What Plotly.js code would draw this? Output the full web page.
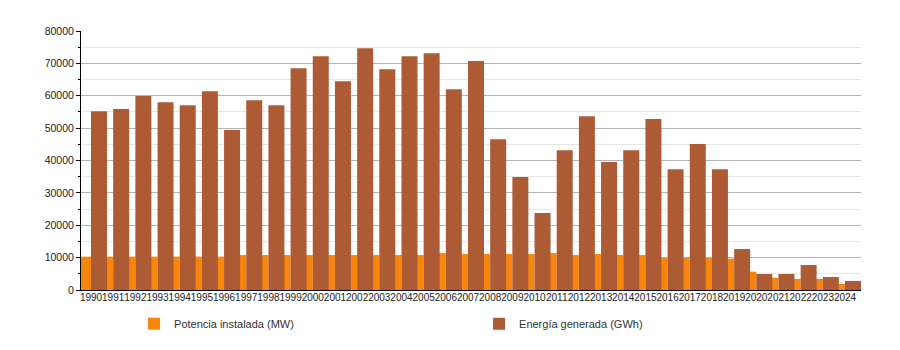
<!DOCTYPE html>
<html>
<head>
<meta charset="utf-8">
<script src="https://cdn.plot.ly/plotly-3.0.1.min.js"></script>
<style>html,body{margin:0;padding:0;background:#fff;}#chart{width:900px;height:350px;}</style>
</head>
<body>
<div id="chart"></div>
<script>
const years = ["1990","1991","1992","1993","1994","1995","1996","1997","1998","1999",
  "2000","2001","2002","2003","2004","2005","2006","2007","2008","2009",
  "2010","2011","2012","2013","2014","2015","2016","2017","2018","2019",
  "2020","2021","2022","2023","2024"];
const potenciaMW = [10300,10300,10300,10300,10300,10300,10300,10800,10800,10800,
  10800,10800,10800,10800,10800,10800,11400,11100,11100,11100,
  11100,11400,10800,11100,10800,10800,9900,9900,9900,9700,
  5650,3800,3400,3400,1850];
const energiaGWh = [55200,55900,59900,58000,57100,61400,49400,58600,57100,68500,
  72200,64500,74700,68200,72200,73100,62000,70700,46600,34900,
  23800,43200,53700,39500,43200,52800,37300,45100,37300,12650,
  4940,4940,7700,4000,2800];
const seriesNames = ["Potencia instalada (MW)", "Energía generada (GWh)"];

const FONT = "Liberation Sans, Arial, sans-serif";
const traces = [
  {type:"bar", name:seriesNames[0], x:years, y:potenciaMW,
   marker:{color:"#f8850c", line:{width:0}}, offset:-0.451, width:0.451, hoverinfo:"x+y"},
  {type:"bar", name:seriesNames[1], x:years, y:energiaGWh,
   marker:{color:"#ad5b35", line:{width:0}}, offset:0, width:0.721, hoverinfo:"x+y"}
];
const layout = {
  width:900, height:350,
  margin:{l:81, r:39, t:31, b:60},
  paper_bgcolor:"#fff", plot_bgcolor:"#fff",
  barmode:"overlay",
  showlegend:true,
  font:{family:FONT, size:10, color:"#222"},
  xaxis:{type:"category", range:[-0.451, 34.721], showgrid:false, zeroline:false,
    showline:true, linecolor:"#000", linewidth:1, ticks:"", tickangle:0, ticklabelstandoff:-2,
    tickfont:{family:FONT, size:10, color:"#222"}, automargin:false},
  yaxis:{range:[0,80000], dtick:10000, tick0:0, showgrid:true, gridcolor:"#b4b4b4", gridwidth:1,
    zeroline:false, showline:true, linecolor:"#000", linewidth:1,
    ticks:"outside", ticklen:4, tickcolor:"#000", tickwidth:1,
    tickfont:{family:FONT, size:10.5, color:"#222"}, tickformat:"d", automargin:false,
    minor:{dtick:5000, showgrid:true, gridcolor:"#e6e6e6", gridwidth:1, ticks:"outside", ticklen:2, tickcolor:"#000"}},
  legend:{orientation:"h", x:0.068, xanchor:"left", y:-0.13, yanchor:"middle",
    font:{family:FONT, size:11, color:"#333"}, entrywidth:300, entrywidthmode:"pixels",
    bgcolor:"rgba(0,0,0,0)", traceorder:"normal"}
};
Plotly.newPlot("chart", traces, layout, {displayModeBar:false, staticPlot:true});
</script>
</body>
</html>
